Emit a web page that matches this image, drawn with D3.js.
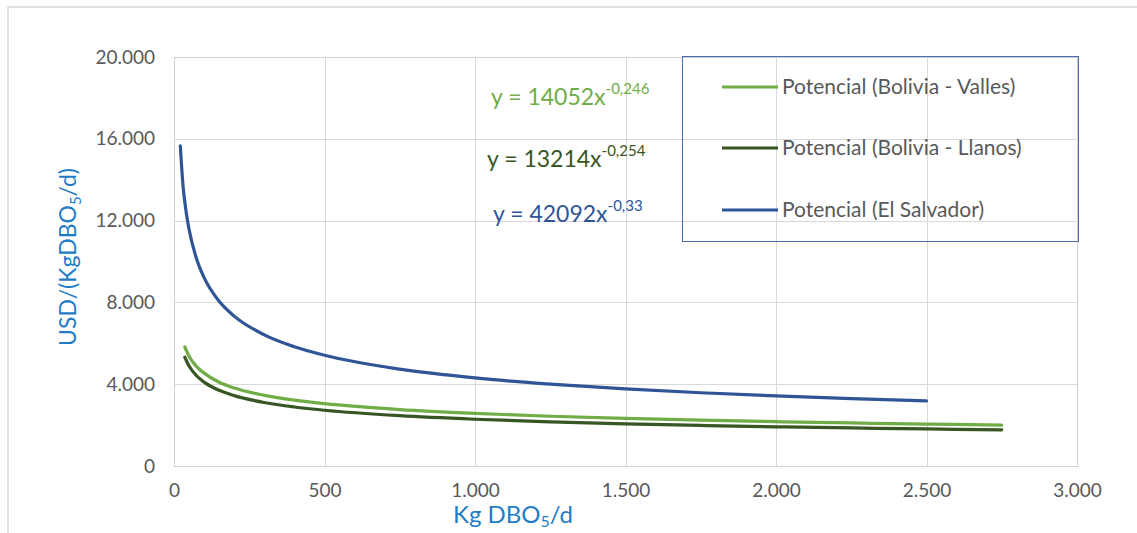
<!DOCTYPE html>
<html>
<head>
<meta charset="utf-8">
<script src="https://cdn.jsdelivr.net/npm/d3@7"></script>
<style>
  html, body { margin: 0; padding: 0; background: #fff; }
  svg { display: block; }
  text { font-family: Lato, "Open Sans", sans-serif; }
</style>
</head>
<body>
<svg id="chart" width="1137" height="533"></svg>
<script>
// ---- Data ----
const seriesNames = ["Potencial (Bolivia - Valles)", "Potencial (Bolivia - Llanos)", "Potencial (El Salvador)"];
const seriesColors = ["#70AD47", "#375623", "#2F5597"];
const equations = [
  { base: "y = 14052x", exp: "-0,246" },
  { base: "y = 13214x", exp: "-0,254" },
  { base: "y = 42092x", exp: "-0,33" }
];

const vallesX = [36, 50, 75, 100, 150, 200, 300, 400, 500, 750, 1000, 1250, 1500, 1750, 2000, 2250, 2500, 2750];
const vallesY = [5820, 5368, 4858, 4542, 4097, 3817, 3456, 3218, 3046, 2757, 2569, 2432, 2325, 2239, 2166, 2104, 2050, 2002];

const llanosX = [36, 50, 75, 100, 150, 200, 300, 400, 500, 750, 1000, 1250, 1500, 1750, 2000, 2250, 2500, 2750];
const llanosY = [5318, 4892, 4414, 4103, 3701, 3441, 3103, 2885, 2726, 2459, 2286, 2160, 2062, 1983, 1916, 1860, 1811, 1768];

const salvadorX = [21, 30, 40, 50, 75, 100, 150, 200, 300, 400, 500, 750, 1000, 1250, 1500, 1750, 2000, 2250, 2500];
const salvadorY = [15660, 13701, 12460, 11575, 10123, 9210, 8056, 7328, 6411, 5830, 5413, 4735, 4306, 4003, 3767, 3582, 3426, 3296, 3183];

const xTicks = [0, 500, 1000, 1500, 2000, 2500, 3000];
const yTicks = [0, 4000, 8000, 12000, 16000, 20000];

// ---- Layout ----
const svg = d3.select("#chart");
const plot = { left: 174, right: 1077, top: 57, bottom: 466 };

const locale = d3.formatLocale({ decimal: ",", thousands: ".", grouping: [3], currency: ["$", ""] });
const fmt = locale.format(",");

const x = d3.scaleLinear().domain([0, 3000]).range([plot.left, plot.right]);
const y = d3.scaleLinear().domain([0, 20000]).range([plot.bottom, plot.top]);

// outer chart frame
svg.append("rect")
  .attr("x", 8).attr("y", 7).attr("width", 1140).attr("height", 540)
  .attr("fill", "#fff").attr("stroke", "#D9D9D9").attr("stroke-width", 1.5);

// gridlines
const grid = svg.append("g");
grid.selectAll("line.h").data(yTicks).join("line")
  .attr("x1", plot.left).attr("x2", plot.right)
  .attr("y1", d => Math.round(y(d)) + 0.5).attr("y2", d => Math.round(y(d)) + 0.5)
  .attr("stroke", "#D9D9D9").attr("stroke-width", 1);
grid.selectAll("line.v").data(xTicks).join("line")
  .attr("y1", plot.top).attr("y2", plot.bottom)
  .attr("x1", d => Math.round(x(d)) + 0.5).attr("x2", d => Math.round(x(d)) + 0.5)
  .attr("stroke", "#D9D9D9").attr("stroke-width", 1);

// plot area border
svg.append("rect")
  .attr("x", plot.left + 0.5).attr("y", plot.top + 0.5)
  .attr("width", plot.right - plot.left).attr("height", plot.bottom - plot.top)
  .attr("fill", "none").attr("stroke", "#D0D0D0").attr("stroke-width", 1);

// axes (labels only)
const yAxis = d3.axisLeft(y).tickValues(yTicks).tickFormat(fmt).tickSize(0).tickPadding(19);
const gy = svg.append("g").attr("transform", `translate(${plot.left},0)`).call(yAxis);
gy.select(".domain").remove();
gy.selectAll("text").attr("font-size", 19).attr("fill", "#595959")
  .attr("font-family", "Lato, sans-serif");

const xAxis = d3.axisBottom(x).tickValues(xTicks).tickFormat(fmt).tickSize(0).tickPadding(18);
const gx = svg.append("g").attr("transform", `translate(0,${plot.bottom})`).call(xAxis);
gx.select(".domain").remove();
gx.selectAll("text").attr("font-size", 19).attr("fill", "#595959")
  .attr("font-family", "Lato, sans-serif");

// series lines
const seriesData = [
  vallesX.map((v, i) => [v, vallesY[i]]),
  llanosX.map((v, i) => [v, llanosY[i]]),
  salvadorX.map((v, i) => [v, salvadorY[i]])
];
const line = d3.line().x(d => x(d[0])).y(d => y(d[1])).curve(d3.curveMonotoneX);
svg.append("g").selectAll("path").data(seriesData).join("path")
  .attr("d", line)
  .attr("fill", "none")
  .attr("stroke", (d, i) => seriesColors[i])
  .attr("stroke-width", 3.2)
  .attr("stroke-linecap", "round")
  .attr("stroke-linejoin", "round");

// equations
const eqPos = [[491, 105], [487, 167], [493, 222]];
equations.forEach((eq, i) => {
  const t = svg.append("text")
    .attr("x", eqPos[i][0]).attr("y", eqPos[i][1])
    .attr("font-size", 23).attr("fill", seriesColors[i]);
  t.append("tspan").text(eq.base);
  t.append("tspan").attr("dy", -11).attr("font-size", 15).text(eq.exp);
});

// legend
const lg = svg.append("g");
lg.append("rect")
  .attr("x", 682.5).attr("y", 56.5).attr("width", 396).attr("height", 185)
  .attr("fill", "none").attr("stroke", "#4A6DB0").attr("stroke-width", 1);
const rowY = [87, 148, 210];
seriesNames.forEach((name, i) => {
  lg.append("line")
    .attr("x1", 722).attr("x2", 778).attr("y1", rowY[i]).attr("y2", rowY[i])
    .attr("stroke", seriesColors[i]).attr("stroke-width", 3.2);
  lg.append("text")
    .attr("x", 782).attr("y", rowY[i] + 7)
    .attr("font-size", 21).attr("fill", "#595959").text(name);
});

// axis titles
const yt = svg.append("text")
  .attr("transform", "translate(76,257) rotate(-90)")
  .attr("text-anchor", "middle")
  .attr("font-size", 23).attr("fill", "#1F7CC6");
yt.append("tspan").text("USD/(KgDBO");
yt.append("tspan").attr("font-size", 15).attr("dy", 5).text("5");
yt.append("tspan").attr("dy", -5).text("/d)");

const xt = svg.append("text")
  .attr("x", 453).attr("y", 523)
  .attr("font-size", 24).attr("fill", "#1F7CC6");
xt.append("tspan").text("Kg DBO");
xt.append("tspan").attr("font-size", 16).attr("dy", 4).text("5");
xt.append("tspan").attr("dy", -4).text("/d");
</script>
</body>
</html>
